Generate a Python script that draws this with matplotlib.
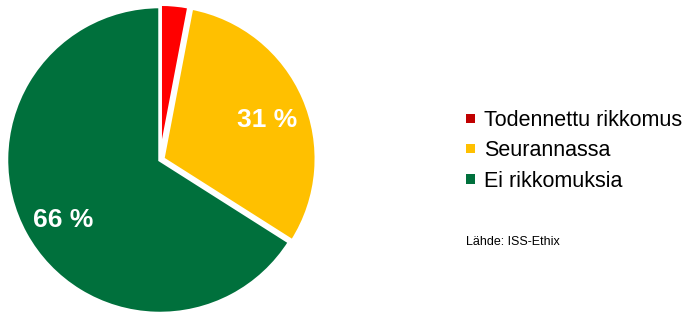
import matplotlib.pyplot as plt
from matplotlib.patches import Patch

plt.rcParams['font.family'] = ['Liberation Sans', 'DejaVu Sans']

# Data
labels = ['Todennettu rikkomus', 'Seurannassa', 'Ei rikkomuksia']
values = [3, 31, 66]
colors = ['#FF0000', '#FFC000', '#00703C']
legend_colors = ['#C00000', '#FFC000', '#00703C']

fig = plt.figure(figsize=(6.85, 3.12), dpi=100, facecolor='white')
ax = fig.add_axes([5 / 685, -3 / 312, 310 / 685, 310 / 312])


def show_pct(p):
    # only label the larger slices
    return '%d %%' % round(p) if p > 5 else ''


wedges, texts, autotexts = ax.pie(values, colors=colors, startangle=90, counterclock=False,
                                  autopct=show_pct, pctdistance=0.73, explode=[0.015, 0.02, 0],
                                  wedgeprops=dict(edgecolor='white', linewidth=2.5))
for t in autotexts:
    t.set_color('white')
    t.set_fontsize(19)
    t.set_fontweight('bold')
    x, y = t.get_position()
    t.set_position((x + 0.01, y - 0.04))  # nudge a bit lower like the original
ax.set_aspect('equal')
ax.set_xlim(-1.01, 1.01)
ax.set_ylim(-1.01, 1.01)

handles = [Patch(facecolor=c, edgecolor='none') for c in legend_colors]
fig.legend(handles, labels, loc='upper left', bbox_to_anchor=(466 / 685, 1 - 110 / 312),
           frameon=False, fontsize=15.5, handlelength=0.4, handleheight=0.3,
           handletextpad=0.42, labelspacing=0.44, borderaxespad=0, borderpad=0)

fig.text(466 / 685, 1 - 242 / 312, 'Lähde: ISS-Ethix', fontsize=9, va='center', ha='left')

fig.savefig('out.png', dpi=100)
